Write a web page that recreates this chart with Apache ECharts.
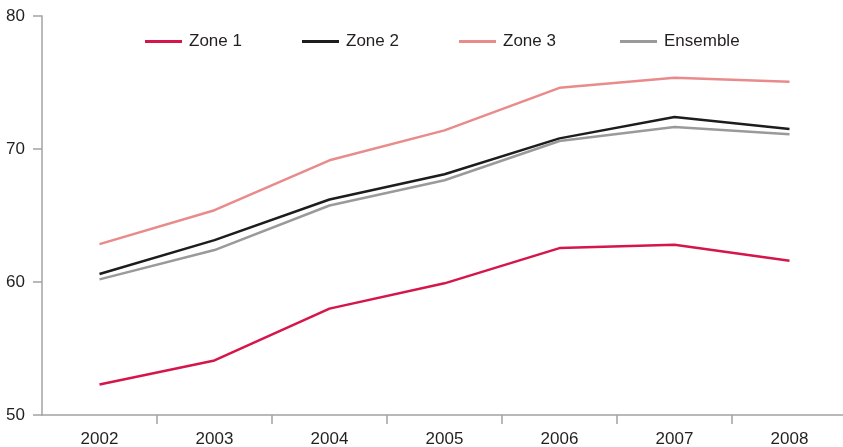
<!DOCTYPE html>
<html>
<head>
<meta charset="utf-8">
<title>Zones 2002–2008</title>
<script src="https://cdn.jsdelivr.net/npm/echarts@6/dist/echarts.min.js"></script>
<style>
  html, body { margin: 0; padding: 0; background: #ffffff; }
  #chart { width: 843px; height: 447px; }
</style>
</head>
<body>
<div id="chart"></div>
<script>
// Years on the horizontal axis
const years = ['2002', '2003', '2004', '2005', '2006', '2007', '2008'];

// Series values per year
const zone1 = [52.3, 54.1, 58.0, 59.9, 62.55, 62.8, 61.6];
const zone2 = [60.6, 63.15, 66.2, 68.1, 70.8, 72.4, 71.5];
const zone3 = [62.85, 65.4, 69.15, 71.4, 74.6, 75.35, 75.05];
const ensemble = [60.2, 62.4, 65.75, 67.65, 70.6, 71.65, 71.1];

// Vertical scale
const yMin = 50;
const yMax = 80;
const yStep = 10;

const FONT = '"Liberation Sans", Arial, sans-serif';
const TEXT = '#231f20';
const AXIS = '#a3a3a3';

const seriesDefs = [
  { name: 'Zone 1', data: zone1, color: '#d5164b', left: 145 },
  { name: 'Zone 2', data: zone2, color: '#1d1d1b', left: 302 },
  { name: 'Zone 3', data: zone3, color: '#e98b8b', left: 459 },
  { name: 'Ensemble', data: ensemble, color: '#9a9a9a', left: 620 }
];

const chart = echarts.init(document.getElementById('chart'), null, { renderer: 'canvas' });

chart.setOption({
  animation: false,
  backgroundColor: '#ffffff',
  textStyle: { fontFamily: FONT },
  grid: {
    left: 42,
    top: 16,
    bottom: 32,
    width: 805,
    containLabel: false,
    outerBoundsMode: 'none'
  },
  legend: seriesDefs.map(s => ({
    data: [s.name],
    left: s.left,
    top: 32,
    padding: 0,
    icon: 'rect',
    itemWidth: 37,
    itemHeight: 3,
    selectedMode: false,
    textStyle: {
      fontFamily: FONT,
      fontSize: 17,
      lineHeight: 19,
      color: TEXT,
      padding: [0, 0, 0, 2]
    }
  })),
  xAxis: {
    type: 'category',
    data: years,
    boundaryGap: true,
    axisLine: { show: true, lineStyle: { color: AXIS, width: 1.5 } },
    axisTick: {
      show: true,
      length: 9,
      // no tick at the origin corner
      interval: (index) => index !== 0,
      lineStyle: { color: AXIS, width: 1.5 }
    },
    axisLabel: {
      margin: 16,
      fontFamily: FONT,
      fontSize: 17,
      color: TEXT
    },
    splitLine: { show: false }
  },
  yAxis: {
    type: 'value',
    min: yMin,
    max: yMax,
    interval: yStep,
    axisLine: { show: true, lineStyle: { color: AXIS, width: 1.5 } },
    axisTick: { show: true, length: 9, lineStyle: { color: AXIS, width: 1.5 } },
    axisLabel: {
      margin: 17,
      fontFamily: FONT,
      fontSize: 17,
      color: TEXT
    },
    splitLine: { show: false }
  },
  series: seriesDefs.map(s => ({
    name: s.name,
    type: 'line',
    data: s.data,
    symbol: 'none',
    smooth: false,
    color: s.color,
    lineStyle: { color: s.color, width: 2.5 },
    emphasis: { disabled: true }
  }))
});
</script>
</body>
</html>
